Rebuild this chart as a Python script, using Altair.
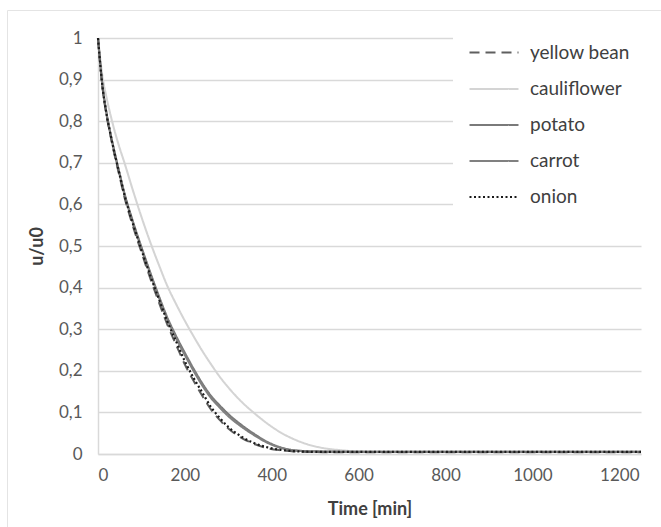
import altair as alt
import pandas as pd

# ---- data ----
times = [0, 10, 20, 30, 40, 50, 60, 80, 100, 120, 140, 160, 180, 200, 220, 240,
         260, 280, 300, 330, 360, 390, 420, 450, 480, 520, 560, 600, 650, 700,
         800, 900, 1000, 1100, 1200, 1250]

cauliflower = [1.0, 0.91, 0.855, 0.81, 0.77, 0.735, 0.703, 0.635, 0.57, 0.51, 0.455,
               0.403, 0.36, 0.32, 0.283, 0.248, 0.216, 0.186, 0.16, 0.126, 0.098,
               0.073, 0.052, 0.036, 0.024, 0.014, 0.009, 0.006, 0.005, 0.005, 0.005,
               0.005, 0.005, 0.005, 0.005, 0.005]
potato = [1.0, 0.887, 0.817, 0.764, 0.717, 0.673, 0.63, 0.56, 0.497, 0.437, 0.38,
          0.327, 0.283, 0.243, 0.205, 0.17, 0.14, 0.117, 0.096, 0.07, 0.048, 0.029,
          0.016, 0.009, 0.007, 0.006, 0.0055, 0.005, 0.005, 0.005, 0.005, 0.005,
          0.005, 0.005, 0.005, 0.005]
carrot = [1.0, 0.887, 0.816, 0.763, 0.716, 0.672, 0.628, 0.558, 0.495, 0.435, 0.377,
          0.323, 0.278, 0.238, 0.2, 0.165, 0.135, 0.112, 0.091, 0.066, 0.045, 0.027,
          0.015, 0.009, 0.0065, 0.0055, 0.005, 0.005, 0.005, 0.005, 0.005, 0.005,
          0.005, 0.005, 0.005, 0.005]
yellow_bean = [1.0, 0.884, 0.812, 0.758, 0.71, 0.666, 0.621, 0.549, 0.485, 0.423,
               0.365, 0.31, 0.262, 0.215, 0.176, 0.14, 0.107, 0.082, 0.061, 0.039,
               0.024, 0.014, 0.009, 0.006, 0.005, 0.0045, 0.0045, 0.0045, 0.0045,
               0.0045, 0.0045, 0.0045, 0.0045, 0.0045, 0.0045, 0.0045]
onion = [1.0, 0.886, 0.815, 0.762, 0.714, 0.67, 0.626, 0.555, 0.491, 0.43, 0.373,
         0.318, 0.27, 0.223, 0.183, 0.148, 0.113, 0.087, 0.065, 0.042, 0.026, 0.016,
         0.010, 0.007, 0.0055, 0.005, 0.005, 0.005, 0.005, 0.005, 0.005, 0.005,
         0.005, 0.005, 0.005, 0.005]

legend_order = ["yellow bean", "cauliflower", "potato", "carrot", "onion"]
draw_order = ["cauliflower", "potato", "carrot", "yellow bean", "onion"]
series_values = {
    "yellow bean": yellow_bean,
    "cauliflower": cauliflower,
    "potato": potato,
    "carrot": carrot,
    "onion": onion,
}
x_ticks = [0, 200, 400, 600, 800, 1000, 1200]
y_ticks = [0, 0.1, 0.2, 0.3, 0.4, 0.5, 0.6, 0.7, 0.8, 0.9, 1]

# ---- styles ----
colors = ["#5f5f5f", "#d4d4d4", "#7a7a7a", "#808080", "#1a1a1a"]
dashes = [[10, 6], [1, 0], [1, 0], [1, 0], [2, 2.5]]
widths = [2.0, 2.2, 3.0, 1.6, 2.2]

rows = []
for name in draw_order:
    for t, v in zip(times, series_values[name]):
        rows.append({"t": t, "u": v, "series": name})
df = pd.DataFrame(rows)

FONT = "Lato"
legend = alt.Legend(
    title=None,
    orient="none",
    legendX=355,
    legendY=-26,
    fillColor="white",
    padding=15,
    symbolType="stroke",
    symbolSize=2401,
    labelFontSize=19,
    labelColor="#404040",
    labelFont=FONT,
    labelOffset=10,
    rowPadding=0,
)

lines = alt.Chart(df).mark_line(interpolate="monotone").encode(
    x=alt.X("t:Q",
            scale=alt.Scale(domain=[0, 1250], nice=False),
            axis=alt.Axis(values=x_ticks, format="d", title="Time [min]",
                          grid=False, ticks=False, labelPadding=13,
                          titlePadding=17)),
    y=alt.Y("u:Q",
            scale=alt.Scale(domain=[0, 1], nice=False),
            axis=alt.Axis(values=y_ticks, title="u/u0", ticks=False,
                          labelExpr="replace(toString(datum.value), '.', ',')",
                          labelPadding=16, titlePadding=12)),
    color=alt.Color("series:N", scale=alt.Scale(domain=legend_order, range=colors),
                    legend=legend),
    strokeDash=alt.StrokeDash("series:N",
                              scale=alt.Scale(domain=legend_order, range=dashes),
                              legend=legend),
    strokeWidth=alt.StrokeWidth("series:N",
                                scale=alt.Scale(domain=legend_order, range=widths),
                                legend=legend),
)

frame = alt.Chart(alt.Data(values=[{}])).mark_rect(
    fillOpacity=0, stroke="#e4e4e4", strokeWidth=1
).encode(
    x=alt.value(-90.5), x2=alt.value(600), y=alt.value(-27.5), y2=alt.value(520)
)

chart = alt.layer(frame, lines).properties(
    width=543,
    height=416,
    autosize=alt.AutoSizeParams(type="none"),
    padding={"left": 98, "top": 38, "right": 20, "bottom": 73},
    background="white",
).configure_view(
    stroke=None
).configure_axis(
    labelFont=FONT,
    labelFontSize=17,
    labelColor="#595959",
    titleFont=FONT,
    titleFontSize=18,
    titleFontWeight="bold",
    titleColor="#404040",
    domainColor="#d9d9d9",
    domainWidth=1.5,
    gridColor="#d9d9d9",
    gridWidth=1.5,
)

chart.save("out.html", embed_options={"renderer": "svg", "actions": False})
